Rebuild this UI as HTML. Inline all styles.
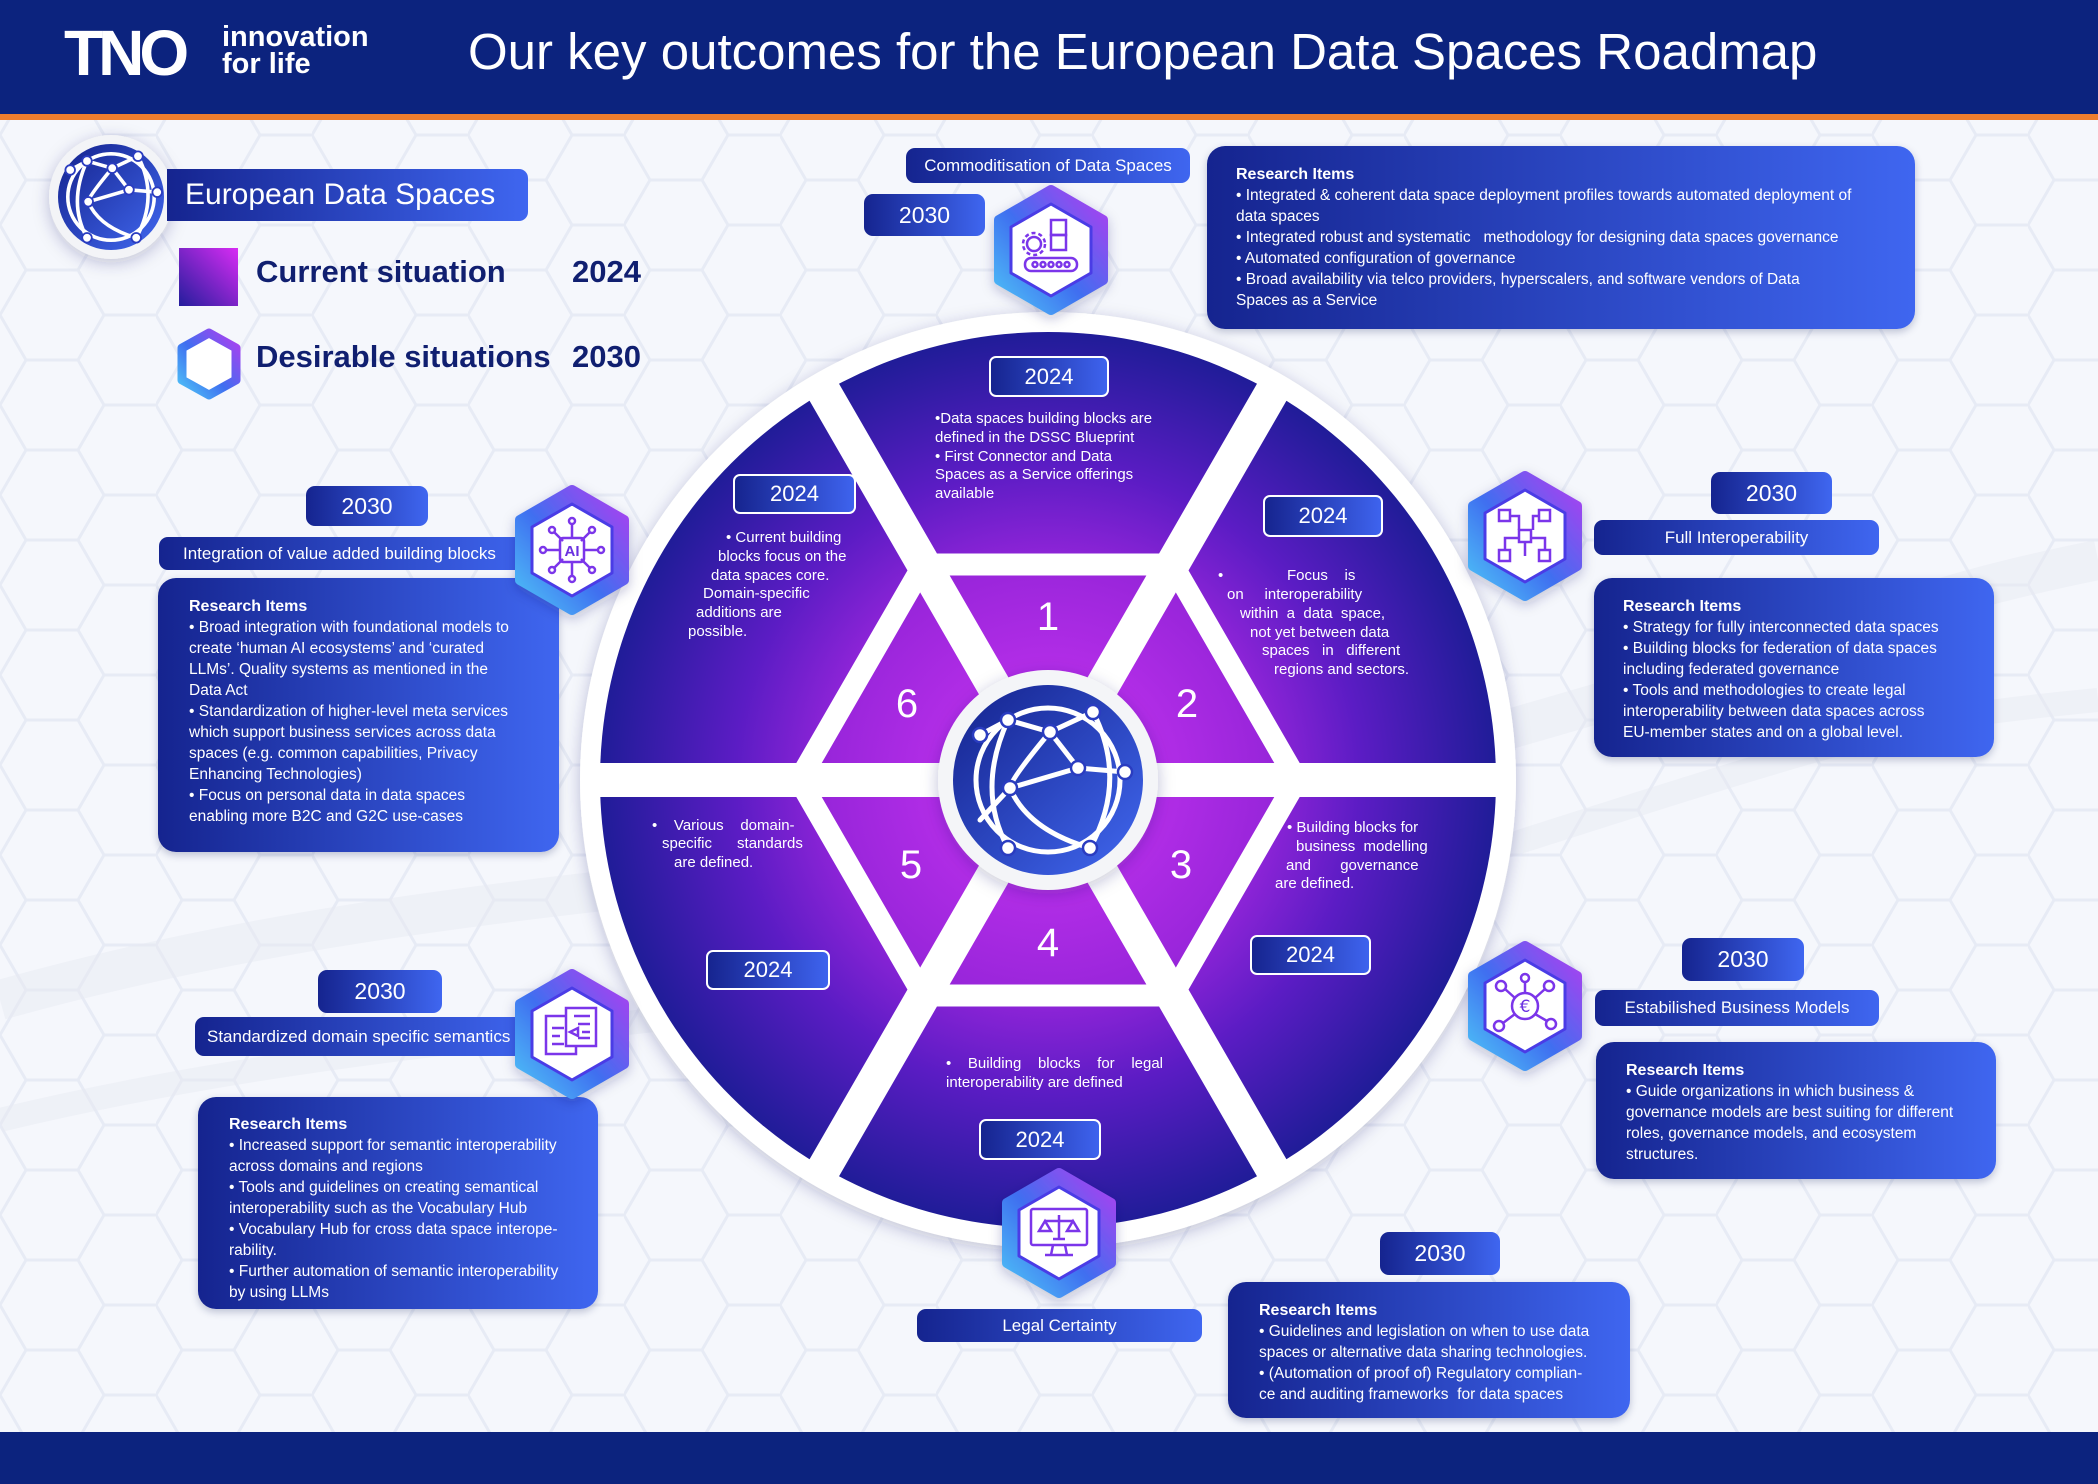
<!DOCTYPE html>
<html><head><meta charset="utf-8">
<style>
*{margin:0;padding:0;box-sizing:border-box}
body{width:2098px;height:1484px;position:relative;overflow:hidden;background:#f5f7fc;font-family:"Liberation Sans",Arial,sans-serif;color:#fff}
.abs{position:absolute}
.box{position:absolute;background:linear-gradient(90deg,#15248f,#3f66f0);}
.rb{border-radius:18px;box-shadow:0 3px 8px rgba(20,30,90,.25)}
.lb{border-radius:9px;display:flex;align-items:center;justify-content:center;white-space:nowrap}
.yr{font-size:23px}
.w24{position:absolute;border:2.5px solid #fff;border-radius:7px;background:linear-gradient(90deg,#16248f,#3e63ee);display:flex;align-items:center;justify-content:center;font-size:22px}
.rt{position:absolute;font-size:15.5px;line-height:21px;white-space:nowrap}
.rt b{font-size:16px}
.wt{position:absolute;font-size:15px;line-height:19px;white-space:pre}
.num{position:absolute;font-size:40px;width:60px;text-align:center;transform:translate(-30px,-24px)}
</style></head><body>

<svg class="abs" style="left:0;top:0" width="2098" height="1484" viewBox="0 0 2098 1484">
<defs>
<pattern id="hx" width="156" height="90" patternUnits="userSpaceOnUse">
<path d="M0,45 L26,0 L78,0 L104,45 L78,90 L26,90 Z M104,45 L156,45" fill="none" stroke="#e7ebf5" stroke-width="3"/>
</pattern>
<radialGradient id="rg" cx="1048" cy="780" r="448" gradientUnits="userSpaceOnUse">
<stop offset="0.45" stop-color="#9a26dc"/><stop offset="0.7" stop-color="#5b1cc4"/><stop offset="1" stop-color="#201c98"/>
</radialGradient>
<radialGradient id="rg2" cx="1048" cy="780" r="240" gradientUnits="userSpaceOnUse">
<stop offset="0.4" stop-color="#b62ee9"/><stop offset="1" stop-color="#9424d8"/>
</radialGradient>
<linearGradient id="gb" x1="0" y1="0" x2="1" y2="1"><stop offset="0" stop-color="#14228c"/><stop offset="1" stop-color="#4168f0"/></linearGradient>
<filter id="sh" x="-20%" y="-20%" width="140%" height="140%"><feDropShadow dx="0" dy="4" stdDeviation="8" flood-color="#1a2060" flood-opacity="0.25"/></filter>
<clipPath id="cd"><circle cx="1048" cy="780" r="449"/></clipPath>
</defs>
<rect width="2098" height="1484" fill="url(#hx)"/>
<path d="M0,1000 C500,860 900,900 1400,760 S1900,600 2098,560" fill="none" stroke="#e6e9f1" stroke-width="40" opacity="0.45"/>
<path d="M0,1120 C500,1000 900,1040 1400,880 S1900,720 2098,700" fill="none" stroke="#e6e9f1" stroke-width="24" opacity="0.45"/>
<rect x="0" y="0" width="2098" height="114" fill="#0c237e"/>
<rect x="0" y="114" width="2098" height="6" fill="#ef7d2e"/>
<rect x="0" y="1432" width="2098" height="52" fill="#0c237e"/>
<circle cx="1048" cy="780" r="468" fill="#fff" filter="url(#sh)"/>
<circle cx="1048" cy="780" r="448" fill="url(#rg)"/>
<polygon points="1284.7,780 1166.4,575 929.6,575 811.3,780 929.6,985 1166.4,985" fill="url(#rg2)"/>
<g clip-path="url(#cd)">
<polygon points="1296.8,780 1172.4,564.5 923.6,564.5 799.2,780 923.6,995.5 1172.4,995.5" fill="none" stroke="#fff" stroke-width="22" stroke-linejoin="round"/>
<g stroke="#fff" stroke-width="34">
<line x1="570" y1="780" x2="1526" y2="780"/>
<line x1="808" y1="1196" x2="1288" y2="364"/>
<line x1="808" y1="364" x2="1288" y2="1196"/>
</g>
</g>
<circle cx="1048" cy="780" r="110" fill="#f4f5f8" filter="url(#sh)"/>
<circle cx="1048" cy="780" r="95" fill="url(#gb)"/>
<g transform="translate(1048,780)" fill="none" stroke="#fff" stroke-width="5" stroke-linecap="round">
<circle r="72"/>
<path d="M-68,-45 L-40,-60 L2,-48 L45,-68"/>
<path d="M2,-48 L30,-12 L77,-8"/>
<path d="M-38,8 L30,-12"/>
<path d="M-40,-60 Q-72,10 -40,68"/>
<path d="M2,-48 Q-38,0 -38,8 Q-20,50 42,68"/>
<path d="M45,-68 Q80,0 42,68"/>
<path d="M-38,8 L-68,40"/>
<g fill="#fff" stroke="#2a3cc0" stroke-width="2.5">
<circle cx="-68" cy="-45" r="7"/><circle cx="-40" cy="-60" r="7"/><circle cx="2" cy="-48" r="7"/><circle cx="45" cy="-68" r="7"/>
<circle cx="30" cy="-12" r="7"/><circle cx="77" cy="-8" r="7"/><circle cx="-38" cy="8" r="7"/><circle cx="-40" cy="68" r="7"/><circle cx="42" cy="68" r="7"/>
</g>
</g>
<circle cx="111" cy="197" r="62" fill="#f3f4f7" filter="url(#sh)"/>
<circle cx="111" cy="197" r="53" fill="url(#gb)"/>
<g transform="translate(111,197) scale(0.6)" fill="none" stroke="#fff" stroke-width="6" stroke-linecap="round">
<circle r="72"/>
<path d="M-68,-45 L-40,-60 L2,-48 L45,-68"/><path d="M2,-48 L30,-12 L77,-8"/><path d="M-38,8 L30,-12"/>
<path d="M-40,-60 Q-72,10 -40,68"/><path d="M2,-48 Q-38,0 -38,8 Q-20,50 42,68"/><path d="M45,-68 Q80,0 42,68"/>
<g fill="#fff" stroke="#2a3cc0" stroke-width="3"><circle cx="-68" cy="-45" r="8"/><circle cx="-40" cy="-60" r="8"/><circle cx="2" cy="-48" r="8"/><circle cx="45" cy="-68" r="8"/><circle cx="30" cy="-12" r="8"/><circle cx="77" cy="-8" r="8"/><circle cx="-38" cy="8" r="8"/><circle cx="-40" cy="68" r="8"/><circle cx="42" cy="68" r="8"/></g>
</g>
<defs><linearGradient id="sq" x1="0" y1="1" x2="1" y2="0"><stop offset="0" stop-color="#231d9c"/><stop offset="1" stop-color="#d82cf4"/></linearGradient></defs>
<rect x="179" y="248" width="59" height="58" fill="url(#sq)"/>
</svg>

<div class="abs" style="left:64px;top:22px;font-size:64px;font-weight:bold;letter-spacing:-5px;line-height:62px">TNO</div>
<div class="abs" style="left:222px;top:24px;font-size:29px;line-height:27px;font-weight:bold">innovation<br>for life</div>
<div class="abs" style="left:468px;top:22px;font-size:51px;line-height:60px;white-space:nowrap">Our key outcomes for the European Data Spaces Roadmap</div>

<div class="box lb" style="left:167px;top:169px;width:361px;height:52px;border-radius:0 9px 9px 0;font-size:30px;justify-content:flex-start;padding-left:18px">European Data Spaces</div>
<div class="abs" style="left:256px;top:254px;font-size:31px;font-weight:bold;color:#101f70;white-space:nowrap">Current situation</div>
<div class="abs" style="left:572px;top:254px;font-size:31px;font-weight:bold;color:#101f70">2024</div>
<div class="abs" style="left:256px;top:339px;font-size:31px;font-weight:bold;color:#101f70;white-space:nowrap">Desirable situations</div>
<div class="abs" style="left:572px;top:339px;font-size:31px;font-weight:bold;color:#101f70">2030</div>

<div class="box lb" style="left:906px;top:148px;width:284px;height:35px;font-size:17px">Commoditisation of Data Spaces</div>
<div class="box lb yr" style="left:864px;top:194px;width:121px;height:42px">2030</div>
<div class="box rb" style="left:1207px;top:146px;width:708px;height:183px"></div>
<div class="rt" style="left:1236px;top:164px"><b>Research Items</b><br>• Integrated &amp; coherent data space deployment profiles towards automated deployment of<br>data spaces<br>• Integrated robust and systematic &nbsp; methodology for designing data spaces governance<br>• Automated configuration of governance<br>• Broad availability via telco providers, hyperscalers, and software vendors of Data<br>Spaces as a Service</div>

<div class="box lb yr" style="left:306px;top:486px;width:122px;height:40px">2030</div>
<div class="box lb" style="left:159px;top:537px;width:380px;height:33px;font-size:17px;justify-content:flex-start;padding-left:24px">Integration of value added building blocks</div>
<div class="box rb" style="left:158px;top:578px;width:401px;height:274px"></div>
<div class="rt" style="left:189px;top:596px"><b>Research Items</b><br>• Broad integration with foundational models to<br>create ‘human AI ecosystems’ and ‘curated<br>LLMs’. Quality systems as mentioned in the<br>Data Act<br>• Standardization of higher-level meta services<br>which support business services across data<br>spaces (e.g. common capabilities, Privacy<br>Enhancing Technologies)<br>• Focus on personal data in data spaces<br>enabling more B2C and G2C use-cases</div>

<div class="box lb yr" style="left:318px;top:970px;width:124px;height:43px">2030</div>
<div class="box lb" style="left:195px;top:1017px;width:340px;height:39px;font-size:17px;justify-content:flex-start;padding-left:12px">Standardized domain specific semantics</div>
<div class="box rb" style="left:198px;top:1097px;width:400px;height:212px"></div>
<div class="rt" style="left:229px;top:1114px"><b>Research Items</b><br>• Increased support for semantic interoperability<br>across domains and regions<br>• Tools and guidelines on creating semantical<br>interoperability such as the Vocabulary Hub<br>• Vocabulary Hub for cross data space interope-<br>rability.<br>• Further automation of semantic interoperability<br>by using LLMs</div>

<div class="box lb" style="left:917px;top:1309px;width:285px;height:33px;font-size:17px">Legal Certainty</div>
<div class="box lb yr" style="left:1380px;top:1232px;width:120px;height:43px">2030</div>
<div class="box rb" style="left:1228px;top:1282px;width:402px;height:136px"></div>
<div class="rt" style="left:1259px;top:1300px"><b>Research Items</b><br>• Guidelines and legislation on when to use data<br>spaces or alternative data sharing technologies.<br>• (Automation of proof of) Regulatory complian-<br>ce and auditing frameworks &nbsp;for data spaces</div>

<div class="box lb yr" style="left:1711px;top:472px;width:121px;height:42px">2030</div>
<div class="box lb" style="left:1594px;top:520px;width:285px;height:35px;font-size:17px">Full Interoperability</div>
<div class="box rb" style="left:1594px;top:578px;width:400px;height:179px"></div>
<div class="rt" style="left:1623px;top:596px"><b>Research Items</b><br>• Strategy for fully interconnected data spaces<br>• Building blocks for federation of data spaces<br>including federated governance<br>• Tools and methodologies to create legal<br>interoperability between data spaces across<br>EU-member states and on a global level.</div>

<div class="box lb yr" style="left:1682px;top:938px;width:122px;height:43px">2030</div>
<div class="box lb" style="left:1595px;top:990px;width:284px;height:36px;font-size:17px">Estabilished Business Models</div>
<div class="box rb" style="left:1596px;top:1042px;width:400px;height:137px"></div>
<div class="rt" style="left:1626px;top:1060px"><b>Research Items</b><br>• Guide organizations in which business &amp;<br>governance models are best suiting for different<br>roles, governance models, and ecosystem<br>structures.</div>

<svg class="abs" style="left:0;top:0" width="2098" height="1484" viewBox="0 0 2098 1484">
<defs>
<linearGradient id="hg" x1="0" y1="1" x2="1" y2="0"><stop offset="0" stop-color="#4ec3f7"/><stop offset="0.45" stop-color="#3f6ff0"/><stop offset="1" stop-color="#b03ef0"/></linearGradient>
<filter id="sh2" x="-20%" y="-20%" width="140%" height="140%"><feDropShadow dx="0" dy="4" stdDeviation="6" flood-color="#1a2060" flood-opacity="0.25"/></filter>
<g id="hex">
<polygon points="0,-60 52,-30 52,30 0,60 -52,30 -52,-30" fill="url(#hg)" stroke="url(#hg)" stroke-width="10" stroke-linejoin="round" filter="url(#sh2)"/>
<polygon points="0,-46 40,-23 40,23 0,46 -40,23 -40,-23" fill="#fff" stroke="#4a3ce6" stroke-width="3" stroke-linejoin="round"/>
</g>
</defs>
<polygon points="209,333 236,348 236,380 209,395 182,380 182,348" fill="#fff" stroke="url(#hg)" stroke-width="9" stroke-linejoin="round"/>

<g transform="translate(1051,250)"><use href="#hex"/>
<g fill="none" stroke="#7b35ea" stroke-width="2.5">
<circle cx="-17" cy="-6" r="7"/><circle cx="-17" cy="-6" r="11" stroke-dasharray="4 3"/>
<rect x="0" y="-30" width="15" height="15"/><rect x="0" y="-15" width="15" height="15"/>
<rect x="-26" y="8" width="52" height="13" rx="6"/>
<circle cx="-16" cy="14.5" r="2.5"/><circle cx="-8" cy="14.5" r="2.5"/><circle cx="0" cy="14.5" r="2.5"/><circle cx="8" cy="14.5" r="2.5"/><circle cx="16" cy="14.5" r="2.5"/>
</g></g>

<g transform="translate(572,550)"><use href="#hex"/>
<g fill="none" stroke="#7b35ea" stroke-width="2.5">
<rect x="-12" y="-12" width="24" height="24" rx="3"/>
<path d="M0,-12 V-26 M0,12 V26 M-12,0 H-26 M12,0 H26 M-9,-9 L-18,-18 M9,-9 L18,-18 M-9,9 L-18,18 M9,9 L18,18"/>
<circle cx="0" cy="-29" r="3"/><circle cx="0" cy="29" r="3"/><circle cx="-29" cy="0" r="3"/><circle cx="29" cy="0" r="3"/>
<circle cx="-20" cy="-20" r="3"/><circle cx="20" cy="-20" r="3"/><circle cx="-20" cy="20" r="3"/><circle cx="20" cy="20" r="3"/>
</g>
<text x="0" y="6" text-anchor="middle" font-family="Liberation Sans" font-weight="bold" font-size="15" fill="#6a30e0">AI</text></g>

<g transform="translate(572,1034)"><use href="#hex"/>
<g fill="none" stroke="#7b35ea" stroke-width="2.5">
<rect x="-26" y="-18" width="30" height="38"/><rect x="-6" y="-26" width="30" height="38" fill="#fff"/>
<path d="M-20,-6 H-8 M-20,2 H-12 M-20,10 H-8 M2,-18 H18 M6,-10 H18 M-2,-2 L6,-6 L6,2 Z M10,-2 H18 M6,4 H18"/>
</g></g>

<g transform="translate(1059,1233)"><use href="#hex"/>
<g fill="none" stroke="#7b35ea" stroke-width="2.5">
<rect x="-28" y="-24" width="56" height="36" rx="2"/><path d="M-6,12 L-8,22 M6,12 L8,22 M-14,22 H14"/>
<path d="M0,-18 V6 M-14,-12 H14 M-14,-12 L-20,-2 H-8 Z M14,-12 L8,-2 H20 Z M-6,6 H6"/>
</g></g>

<g transform="translate(1525,536)"><use href="#hex"/>
<g fill="none" stroke="#7b35ea" stroke-width="2.5">
<rect x="-26" y="-26" width="11" height="11"/><rect x="14" y="-26" width="11" height="11"/><rect x="-6" y="-6" width="12" height="12"/>
<rect x="-26" y="14" width="11" height="11"/><rect x="14" y="14" width="11" height="11"/>
<path d="M-15,-20 H-6 V-6 M14,-20 H8 V-6 M-20,14 V2 H-6 M6,2 H20 V14 M0,6 V20"/>
</g></g>

<g transform="translate(1525,1006)"><use href="#hex"/>
<g fill="none" stroke="#7b35ea" stroke-width="2.5">
<circle r="13"/><circle cx="-24" cy="-20" r="5"/><circle cx="-26" cy="20" r="5"/><circle cx="24" cy="-20" r="5"/><circle cx="26" cy="18" r="5"/><circle cx="0" cy="-28" r="4"/>
<path d="M-10,-8 L-20,-17 M-10,8 L-22,17 M10,-8 L20,-17 M10,8 L22,15 M0,-13 V-24"/>
</g>
<text x="0" y="6" text-anchor="middle" font-family="DejaVu Sans" font-size="17" fill="#6a30e0">€</text></g>
</svg>

<div class="w24" style="left:989px;top:356px;width:120px;height:41px">2024</div>
<div class="w24" style="left:733px;top:474px;width:123px;height:40px">2024</div>
<div class="w24" style="left:1263px;top:495px;width:120px;height:42px">2024</div>
<div class="w24" style="left:1250px;top:935px;width:121px;height:40px">2024</div>
<div class="w24" style="left:706px;top:950px;width:124px;height:40px">2024</div>
<div class="w24" style="left:979px;top:1119px;width:122px;height:41px">2024</div>

<div class="wt" style="left:935px;top:410px;line-height:18.8px">•Data spaces building blocks are
defined in the DSSC Blueprint
• First Connector and Data
Spaces as a Service offerings
available</div>
<div class="wt" style="left:726px;top:528px">• Current building</div>
<div class="wt" style="left:718px;top:547px">blocks focus on the</div>
<div class="wt" style="left:711px;top:566px">data spaces core.</div>
<div class="wt" style="left:703px;top:584px">Domain-specific</div>
<div class="wt" style="left:696px;top:603px">additions are</div>
<div class="wt" style="left:688px;top:622px">possible.</div>

<div class="wt" style="left:1218px;top:566px">•</div>
<div class="wt" style="left:1287px;top:566px">Focus    is</div>
<div class="wt" style="left:1227px;top:585px">on     interoperability</div>
<div class="wt" style="left:1240px;top:604px">within  a  data  space,</div>
<div class="wt" style="left:1250px;top:623px">not yet between data</div>
<div class="wt" style="left:1262px;top:641px">spaces   in   different</div>
<div class="wt" style="left:1274px;top:660px">regions and sectors.</div>

<div class="wt" style="left:1287px;top:818px">• Building blocks for</div>
<div class="wt" style="left:1296px;top:837px">business  modelling</div>
<div class="wt" style="left:1286px;top:856px">and       governance</div>
<div class="wt" style="left:1275px;top:874px">are defined.</div>

<div class="wt" style="left:652px;top:816px">•    Various    domain-</div>
<div class="wt" style="left:662px;top:834px">specific      standards</div>
<div class="wt" style="left:674px;top:853px">are defined.</div>

<div class="wt" style="left:946px;top:1054px">•    Building    blocks    for    legal</div>
<div class="wt" style="left:946px;top:1073px">interoperability are defined</div>

<div class="num" style="left:1048px;top:619px">1</div>
<div class="num" style="left:1187px;top:706px">2</div>
<div class="num" style="left:1181px;top:867px">3</div>
<div class="num" style="left:1048px;top:945px">4</div>
<div class="num" style="left:911px;top:867px">5</div>
<div class="num" style="left:907px;top:706px">6</div>

</body></html>
